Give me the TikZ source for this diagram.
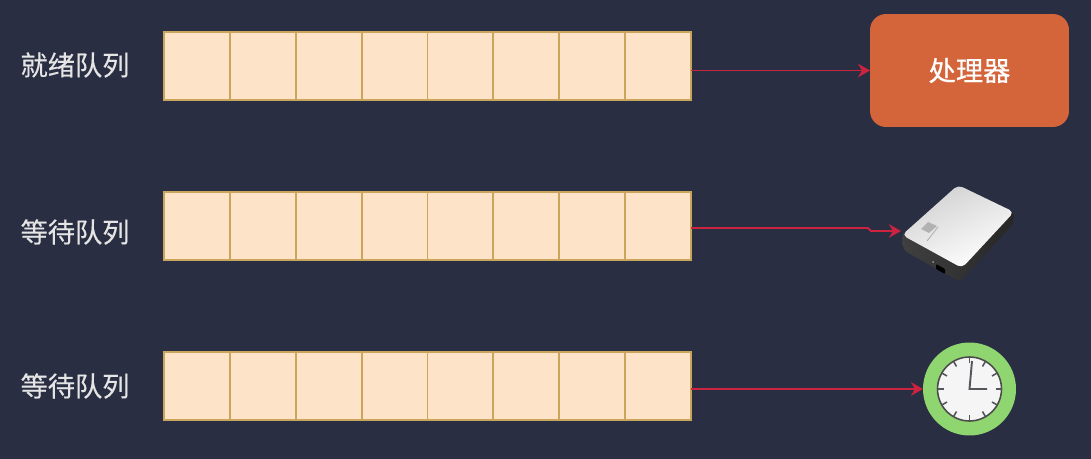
\documentclass[tikz,border=0pt]{standalone}
\usepackage{fontspec}
\setmainfont[FakeBold=0.3]{Noto Sans CJK SC}
\newfontfamily\cpufont[FakeBold=0.7]{Noto Sans CJK SC}
\usepackage{xcolor}
\usetikzlibrary{arrows.meta,positioning,calc}
\definecolor{bgdark}{HTML}{2A2E42}
\definecolor{cellfill}{HTML}{FDE3C8}
\definecolor{celledge}{HTML}{C9A65C}
\definecolor{linkred}{HTML}{CB2340}
\definecolor{cpufill}{HTML}{D4643A}
\definecolor{ringgreen}{HTML}{8FD670}
\definecolor{handgray}{HTML}{55565C}

\begin{document}
\begin{tikzpicture}[x=0.02cm, y=-0.02cm,
    every node/.style={font=\fontsize{15.5pt}{18pt}\selectfont, text=white!90!black},
    cell/.style={draw=celledge, line width=1pt, fill=cellfill, minimum width=1.318cm, minimum height=1.36cm, inner sep=0pt, outer sep=0pt},
    link/.style={-{Stealth[length=0.24cm, width=0.27cm]}, draw=linkred, line width=1.1pt}]
        % Background
        \fill[bgdark] (0,0) rectangle (1091,459);
        \useasboundingbox (0,0) rectangle (1091,459);

        % Ready queue
        \node (readylabel) at (75,65) {就绪队列};
        \foreach \i in {1,...,8} {
            \node[cell] (ready\i) at ({164+65.875*(\i-0.5)},66) {};
        }

        % Disk queue
        \node (disklabel) at (75,232) {等待队列};
        \foreach \i in {1,...,8} {
            \node[cell] (disk\i) at ({164+65.875*(\i-0.5)},226) {};
        }

        % Timer queue
        \node (timerlabel) at (75,386) {等待队列};
        \foreach \i in {1,...,8} {
            \node[cell] (timer\i) at ({164+65.875*(\i-0.5)},386) {};
        }

        % Processor
        \node[fill=cpufill, rounded corners=0.32cm, minimum width=3.98cm, minimum height=2.26cm, inner sep=0pt, outer sep=0pt, text=white] (cpu) at (969.5,70.5) {\cpufont 处理器};
        \draw[link] (ready8.east |- cpu) -- (cpu);

        % Disk drive
        \shade[left color=black!75, right color=black!85, rounded corners=0.1cm] (902,232) -- (903,250) -- (960,282) -- (1013,224) -- (1014,210) -- cycle;
        \shade[left color=black!18, right color=white, shading angle=25, rounded corners=0.1cm] (958,185) -- (1014,212) -- (962,268) -- (902,235) -- cycle;
        \fill[black!30] (921,229) -- (929,233) -- (937,226) -- (928,222) -- cycle;
        \draw[black!30, line width=0.5pt] (927,241) -- (938,227);
        \fill[black, rounded corners=0.02cm] (936,264) -- (945,269) -- (945,274) -- (936,269) -- cycle;
        \fill[black!40] (933,262) circle (1);
        \coordinate (diskin) at (901,231);
        \coordinate (diskbend) at (868,228);
        \coordinate (diskbendb) at (871,231);
        \draw[link] (disk8.east |- diskbend) -- (diskbend) -- (diskbendb) -- (diskin);

        % Clock
        \node[circle, fill=ringgreen, minimum size=1.86cm, inner sep=0pt, outer sep=0pt] (clock) at (969.5,389) {};
        \node[circle, draw=black!70, line width=0.9pt, fill=white!96!black, minimum size=1.28cm, inner sep=0pt] (face) at (clock) {};
        \foreach \a in {0,30,...,330} {
            \draw[handgray, line width=0.9pt] ($(face)+(\a:32)$) -- ($(face)+(\a:26)$);
        }
        \coordinate (minutetip) at (972,361);
        \coordinate (hourtip) at (987,389);
        \draw[handgray, line width=1.1pt] (minutetip) -- (face.center) -- (hourtip);
        \draw[link] (timer8.east |- clock) -- (clock);
    \end{tikzpicture}
\end{document}
